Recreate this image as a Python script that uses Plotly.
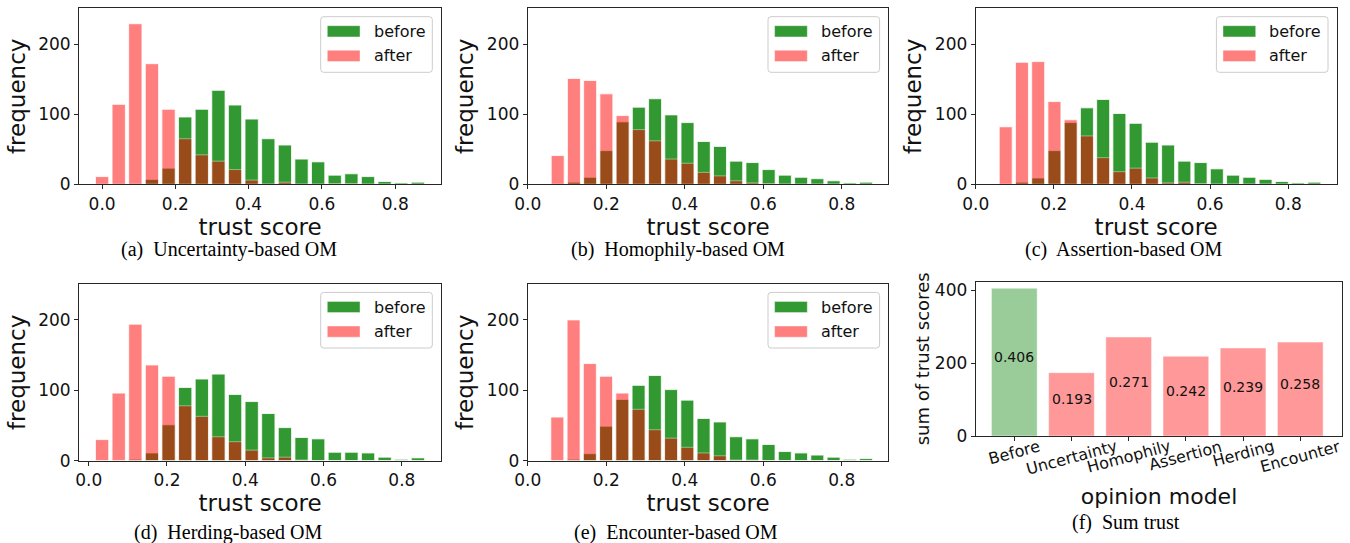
import numpy as np
import plotly.graph_objects as go

W, H = 1350, 543

# ---------------- data ----------------
N_BINS = 20
# centre of first / last histogram bin of each panel (a)..(e)
bin_first = [0.0, 0.0764, 0.0768, 0.0342, 0.0755]
bin_last = [0.8618, 0.862, 0.8665, 0.841, 0.862]

before_a = [0, 0, 0, 7, 23, 96, 107, 134, 113, 93, 65, 56, 36, 32, 13, 15, 11, 4, 2, 3]
after_a = [11, 114, 229, 172, 107, 65, 42, 33, 21, 6, 0, 3, 0, 0, 1, 1, 0, 0, 0, 0]
before_b = [0, 3, 10, 48, 89, 110, 122, 99, 88, 61, 54, 33, 31, 21, 13, 10, 8, 5, 2, 3]
after_b = [41, 151, 148, 129, 98, 78, 62, 36, 30, 17, 12, 5, 2, 1, 0, 0, 0, 0, 0, 0]
before_c = [0, 3, 9, 48, 88, 109, 121, 101, 87, 60, 56, 33, 31, 22, 13, 10, 7, 4, 2, 3]
after_c = [82, 174, 175, 118, 92, 69, 38, 18, 23, 9, 2, 3, 1, 0, 0, 0, 0, 0, 0, 0]
before_d = [0, 0, 2, 11, 51, 104, 116, 123, 94, 84, 67, 47, 33, 31, 12, 12, 11, 5, 2, 4]
after_d = [30, 96, 194, 136, 120, 78, 63, 34, 27, 15, 4, 5, 1, 0, 0, 0, 0, 0, 0, 0]
before_e = [0, 2, 10, 49, 87, 107, 121, 101, 86, 60, 55, 34, 31, 23, 13, 11, 8, 5, 2, 3]
after_e = [62, 200, 138, 120, 96, 73, 44, 32, 19, 11, 7, 1, 1, 0, 0, 0, 0, 0, 0, 0]

captions = ["(a)\u00a0 Uncertainty-based OM", "(b)\u00a0 Homophily-based OM",
            "(c)\u00a0 Assertion-based OM", "(d)\u00a0 Herding-based OM",
            "(e)\u00a0 Encounter-based OM", "(f)\u00a0 Sum trust"]

models = ["Before", "Uncertainty", "Homophily", "Assertion", "Herding", "Encounter"]
sum_trust = [406, 174, 272, 219, 242, 258]
mean_labels = ["0.406", "0.193", "0.271", "0.242", "0.239", "0.258"]

x_ticks = [0.0, 0.2, 0.4, 0.6, 0.8]
freq_ticks = [0, 100, 200]
sum_ticks = [0, 200, 400]

befores = [before_a, before_b, before_c, before_d, before_e]
afters = [after_a, after_b, after_c, after_d, after_e]

# ---------------- layout geometry (pixels) ----------------
boxes = [(79, 441, 8.3, 184.3), (527.7, 888.3, 8.3, 184.3), (975.7, 1336.7, 8.3, 184.3),
         (79, 441, 284, 460.7), (527.7, 888.3, 284, 460.7), (975.7, 1342.3, 281.7, 436)]
x_ranges = [[-0.063, 0.925], [0, 0.9187], [0, 0.9239], [-0.0248, 0.900], [0, 0.9187], [-0.675, 5.735]]
cap_pos = [(229, 250), (678, 250), (1123, 250), (228, 532), (676, 532), (1126, 522)]

FONT = "DejaVu Sans"
GREEN = "rgba(0,128,0,0.8)"
RED = "rgba(255,0,0,0.5)"
TICK_SIZE = 17


def px_x(v):
    return v / W


def px_y(v):
    return 1 - v / H


fig = go.Figure()

for i in range(5):
    n = i + 1
    xa = "x" if n == 1 else f"x{n}"
    ya = "y" if n == 1 else f"y{n}"
    centers = np.linspace(bin_first[i], bin_last[i], N_BINS)
    step = (bin_last[i] - bin_first[i]) / (N_BINS - 1)
    fig.add_trace(go.Bar(x=centers, y=befores[i], width=step * 0.8, name="before",
                         marker=dict(color="green", line=dict(color="white", width=0.8)),
                         opacity=0.8, xaxis=xa, yaxis=ya, showlegend=False))
    fig.add_trace(go.Bar(x=centers, y=afters[i], width=step * 0.8, name="after",
                         marker=dict(color="red", line=dict(color="white", width=0.8)),
                         opacity=0.5, xaxis=xa, yaxis=ya, showlegend=False))

# panel (f)
bar_colors = ["rgba(0,128,0,0.4)"] + ["rgba(255,0,0,0.4)"] * (len(models) - 1)
fig.add_trace(go.Bar(x=list(range(len(models))), y=sum_trust, width=0.8,
                     marker=dict(color=bar_colors, line=dict(color="rgba(255,255,255,0.6)", width=0.8)),
                     xaxis="x6", yaxis="y6", showlegend=False))

axis_common = dict(showline=True, linecolor="#262626", linewidth=1, mirror=True,
                   ticks="outside", ticklen=4, tickwidth=1, tickcolor="#262626",
                   showgrid=False, zeroline=False, automargin=False,
                   tickfont=dict(family=FONT, size=TICK_SIZE, color="#111"))

layout = dict(width=W, height=H, margin=dict(l=0, r=0, t=0, b=0),
              paper_bgcolor="white", plot_bgcolor="white", barmode="overlay",
              font=dict(family=FONT, color="#111"), template="none")

for k, (l, r, t, b) in enumerate(boxes):
    n = k + 1
    xkey = "xaxis" if n == 1 else f"xaxis{n}"
    ykey = "yaxis" if n == 1 else f"yaxis{n}"
    ya_name = "y" if n == 1 else f"y{n}"
    xa_name = "x" if n == 1 else f"x{n}"
    if n <= 5:
        xax = dict(axis_common, domain=[px_x(l), px_x(r)], range=x_ranges[k], anchor=ya_name,
                   tickvals=x_ticks, tickformat=".1f",
                   title=dict(text="trust score", font=dict(family=FONT, size=23, color="#111"), standoff=0))
        yax = dict(axis_common, domain=[px_y(b), px_y(t)], range=[0, 251], anchor=xa_name,
                   tickvals=freq_ticks,
                   title=dict(text="frequency", font=dict(family=FONT, size=23, color="#111"), standoff=6))
    else:
        xax = dict(axis_common, domain=[px_x(l), px_x(r)], range=x_ranges[k], anchor=ya_name,
                   tickvals=list(range(len(models))), showticklabels=False,
                   title=dict(text="opinion model", font=dict(family=FONT, size=22, color="#111"), standoff=48))
        yax = dict(axis_common, domain=[px_y(b), px_y(t)], range=[0, 424], anchor=xa_name,
                   tickvals=sum_ticks,
                   title=dict(text="sum of trust scores", font=dict(family=FONT, size=18, color="#111"), standoff=0))
    layout[xkey] = xax
    layout[ykey] = yax

fig.update_layout(**layout)

shapes = []
annotations = []

# manual legends for the histogram panels
for k in range(5):
    l, r, t, b = boxes[k]
    L, R, T, B = r - 120.3, r - 8.7, t + 8.4, t + 64
    rr = 3
    path = (f"M {px_x(L+rr)},{px_y(T)} L {px_x(R-rr)},{px_y(T)} Q {px_x(R)},{px_y(T)} {px_x(R)},{px_y(T+rr)} "
            f"L {px_x(R)},{px_y(B-rr)} Q {px_x(R)},{px_y(B)} {px_x(R-rr)},{px_y(B)} "
            f"L {px_x(L+rr)},{px_y(B)} Q {px_x(L)},{px_y(B)} {px_x(L)},{px_y(B-rr)} "
            f"L {px_x(L)},{px_y(T+rr)} Q {px_x(L)},{px_y(T)} {px_x(L+rr)},{px_y(T)} Z")
    shapes.append(dict(type="path", path=path, xref="paper", yref="paper",
                       fillcolor="rgba(255,255,255,0.8)", line=dict(color="#cccccc", width=1)))
    for (label, col, y0) in [("before", GREEN, 9), ("after", RED, 33.6)]:
        shapes.append(dict(type="rect", xref="paper", yref="paper",
                           x0=px_x(L + 6.6), x1=px_x(L + 39.3), y0=px_y(T + y0), y1=px_y(T + y0 + 11.2),
                           fillcolor=col, line=dict(color="rgba(255,255,255,0.5)", width=0.8)))
        annotations.append(dict(text=label, xref="paper", yref="paper", x=px_x(L + 51),
                                y=px_y(T + y0 + 5.6), xanchor="left", yanchor="middle", showarrow=False,
                                font=dict(family=FONT, size=16, color="#111")))

# value labels in panel (f)
for i, (h, lab) in enumerate(zip(sum_trust, mean_labels)):
    annotations.append(dict(text=lab, xref="x6", yref="y6", x=i, y=h / 2, yshift=5,
                            xanchor="center", yanchor="middle", showarrow=False,
                            font=dict(family=FONT, size=14, color="#111")))

# rotated category tick labels for panel (f)
for i, m in enumerate(models):
    annotations.append(dict(text=m, xref="x6", yref="y6 domain", x=i, y=0, yshift=2,
                            xanchor="center", yanchor="top", textangle=-15, showarrow=False,
                            font=dict(family=FONT, size=16, color="#111")))

# sub-figure captions
for cap, (cx, cy) in zip(captions, cap_pos):
    annotations.append(dict(text=cap, xref="paper", yref="paper", x=px_x(cx), y=px_y(cy),
                            xanchor="center", yanchor="middle", showarrow=False,
                            font=dict(family="Liberation Serif", size=20, color="#000")))

fig.update_layout(shapes=shapes, annotations=annotations)
fig.write_html("out.html", config={"displayModeBar": False},
               post_script="document.body.style.margin='0';document.body.style.overflow='hidden';")
